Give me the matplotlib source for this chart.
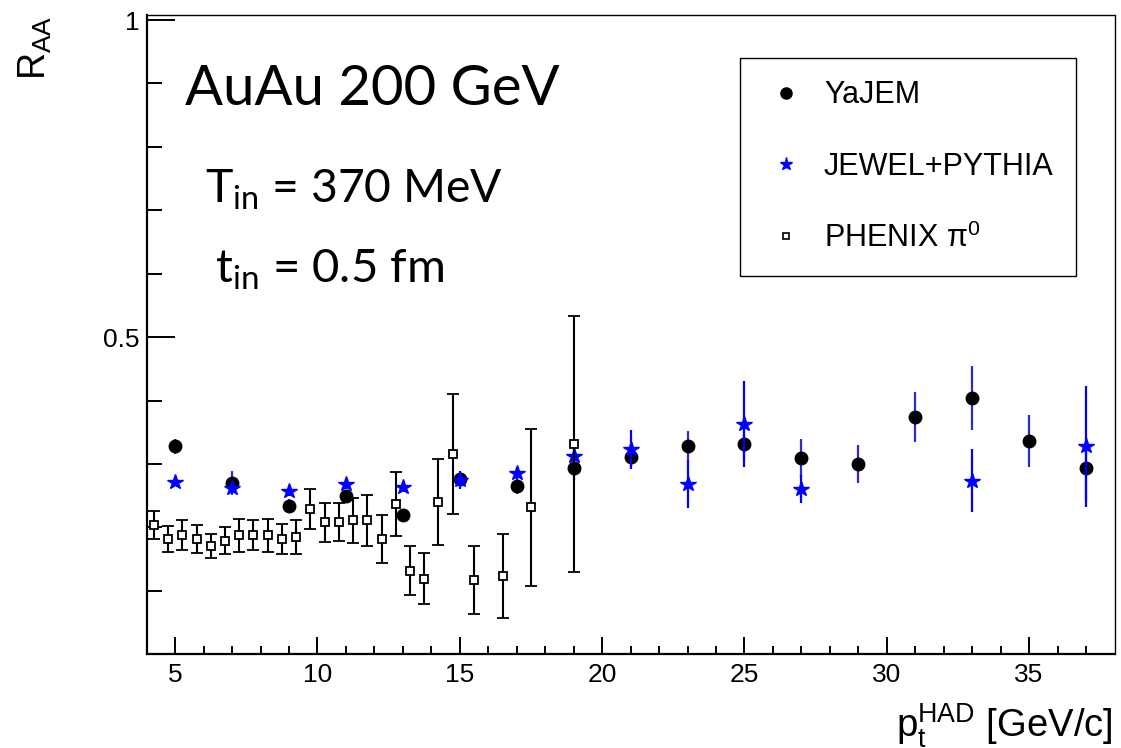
import numpy as np
import matplotlib
matplotlib.use("Agg")
from matplotlib import pyplot as plt
from matplotlib.lines import Line2D

plt.rcParams['mathtext.fontset'] = 'custom'
plt.rcParams['mathtext.rm'] = 'Lato'
plt.rcParams['mathtext.it'] = 'Lato'
plt.rcParams['mathtext.sf'] = 'Liberation Sans'

# PHENIX pi0 R_AA, 0-10% AuAu 200 GeV
phenix_pt = [4.25, 4.75, 5.25, 5.75, 6.25, 6.75, 7.25, 7.75, 8.25, 8.75, 9.25, 9.75,
             10.25, 10.75, 11.25, 11.75, 12.25, 12.75, 13.25, 13.75, 14.25, 14.75,
             15.5, 16.5, 17.5, 19.0]
phenix_raa = [0.204, 0.182, 0.188, 0.182, 0.171, 0.179, 0.188, 0.188, 0.188, 0.182, 0.185, 0.229,
              0.208, 0.208, 0.211, 0.211, 0.182, 0.237, 0.132, 0.119, 0.240, 0.316,
              0.117, 0.123, 0.232, 0.332]
phenix_err = [0.022, 0.020, 0.023, 0.022, 0.019, 0.021, 0.026, 0.024, 0.026, 0.024, 0.027, 0.032,
              0.031, 0.030, 0.035, 0.040, 0.038, 0.050, 0.038, 0.040, 0.068, 0.094,
              0.053, 0.066, 0.124, 0.202]

# MC results, 2 GeV bins
mc_pt = [5, 7, 9, 11, 13, 15, 17, 19, 21, 23, 25, 27, 29, 31, 33, 35, 37]
yajem_raa = [0.328, 0.270, 0.234, 0.250, 0.219, 0.276, 0.266, 0.293, 0.311, 0.328, 0.331,
             0.309, 0.300, 0.374, 0.404, 0.336, 0.293]
yajem_err = [0.012, 0.019, 0.011, 0.008, 0.006, 0.010, 0.014, 0.018, 0.015, 0.024, 0.025,
             0.030, 0.030, 0.040, 0.050, 0.041, 0.050]
jewel_raa = [0.272, 0.262, 0.258, 0.269, 0.264, 0.275, 0.286, 0.313, 0.323, 0.269, 0.363,
             0.261, np.nan, np.nan, 0.274, np.nan, 0.328]
jewel_err = [0.005, 0.008, 0.008, 0.008, 0.008, 0.014, 0.010, 0.019, 0.031, 0.038, 0.068,
             0.022, np.nan, np.nan, 0.049, np.nan, 0.095]

W, H = 1121, 748
fig = plt.figure(figsize=(W/100, H/100), dpi=100)
ax = fig.add_axes([146.7/W, 1-654.3/H, (1114.5-146.7)/W, (654.3-15)/H])

x = np.array(mc_pt, dtype=float)
jr = np.array(jewel_raa)
je = np.array(jewel_err)
ok = ~np.isnan(jr)

ax.errorbar(x, yajem_raa, yerr=yajem_err, fmt='o', color='black', ms=9,
            ecolor='#2b2bd0', elinewidth=1.6, capsize=0, zorder=3)
ax.errorbar(x[ok], jr[ok], yerr=je[ok], fmt='*', color='#0000ff', ms=11.5,
            ecolor='#0000ff', elinewidth=1.6, capsize=0, zorder=4)
ax.errorbar(phenix_pt, phenix_raa, yerr=phenix_err, fmt='s', mfc='white', mec='black',
            mew=1.3, ms=5.3, ecolor='black', elinewidth=1.5, capsize=4, capthick=1.5,
            zorder=5)

ax.set_xlim(4, 38)
ax.set_ylim(0, 1.008)

ax.set_xticks([5, 10, 15, 20, 25, 30, 35])
ax.set_xticks(np.arange(5, 38, 1), minor=True)
ax.set_yticks([0.5, 1.0])
ax.set_yticklabels(['0.5', '1'])
ax.set_yticks([0.1, 0.2, 0.3, 0.4, 0.6, 0.7, 0.8, 0.9], minor=True)

ax.tick_params(axis='x', which='major', direction='in', length=12.5, width=1.4,
               labelsize=19, pad=6, top=False)
ax.tick_params(axis='x', which='minor', direction='in', length=6, width=1.4, top=False)
ax.tick_params(axis='y', which='major', direction='in', length=20, width=1.4,
               labelsize=19, pad=5, right=False)
ax.tick_params(axis='y', which='minor', direction='in', length=11, width=1.4, right=False)
for lab in ax.get_xticklabels() + ax.get_yticklabels():
    lab.set_fontfamily('Liberation Sans')

for s in ['left', 'bottom']:
    ax.spines[s].set_linewidth(1.6)
for s in ['right', 'top']:
    ax.spines[s].set_linewidth(1.0)

# axis titles, ROOT style
fig.text(1113/W, 1-737/H, r'$\mathsf{p_{t}^{HAD}}$ [GeV/c]', ha='right', va='baseline',
         fontsize=27.5, family='Liberation Sans')
fig.text(35/W, 1-16/H, r'$\mathsf{R_{AA}}$', rotation=90, ha='center', va='top',
         fontsize=27, family='Liberation Sans')

# collision setup
ax.text(185/W, 1-105/H, 'AuAu 200 GeV', transform=fig.transFigure, fontsize=40.5,
        family='Lato', va='baseline')
ax.text(205/W, 1-203/H, r'T$_{\mathrm{in}}$ = 370 MeV', transform=fig.transFigure,
        fontsize=33.3, family='Lato', va='baseline')
ax.text(215/W, 1-283/H, r't$_{\mathrm{in}}$ = 0.5 fm', transform=fig.transFigure,
        fontsize=34, family='Lato', va='baseline')

handles = [
    Line2D([], [], ls='none', marker='o', color='black', ms=8),
    Line2D([], [], ls='none', marker='*', color='#0000ff', ms=9.5),
    Line2D([], [], ls='none', marker='s', mfc='white', mec='black', mew=1.2, ms=5),
]
labels = ['YaJEM', 'JEWEL+PYTHIA', 'PHENIX π$^{\\mathsf{0}}$']
leg = ax.legend(handles, labels, loc='upper left', bbox_to_anchor=(740/W, 1-58.3/H),
                bbox_transform=fig.transFigure, borderaxespad=0,
                prop={'family': 'Liberation Sans', 'size': 22},
                frameon=True, fancybox=False, framealpha=1, edgecolor='black',
                borderpad=0.72, labelspacing=1.36, handlelength=1.55, handletextpad=0.48)
leg.get_frame().set_linewidth(1.0)

fig.savefig('out.png', dpi=100)
